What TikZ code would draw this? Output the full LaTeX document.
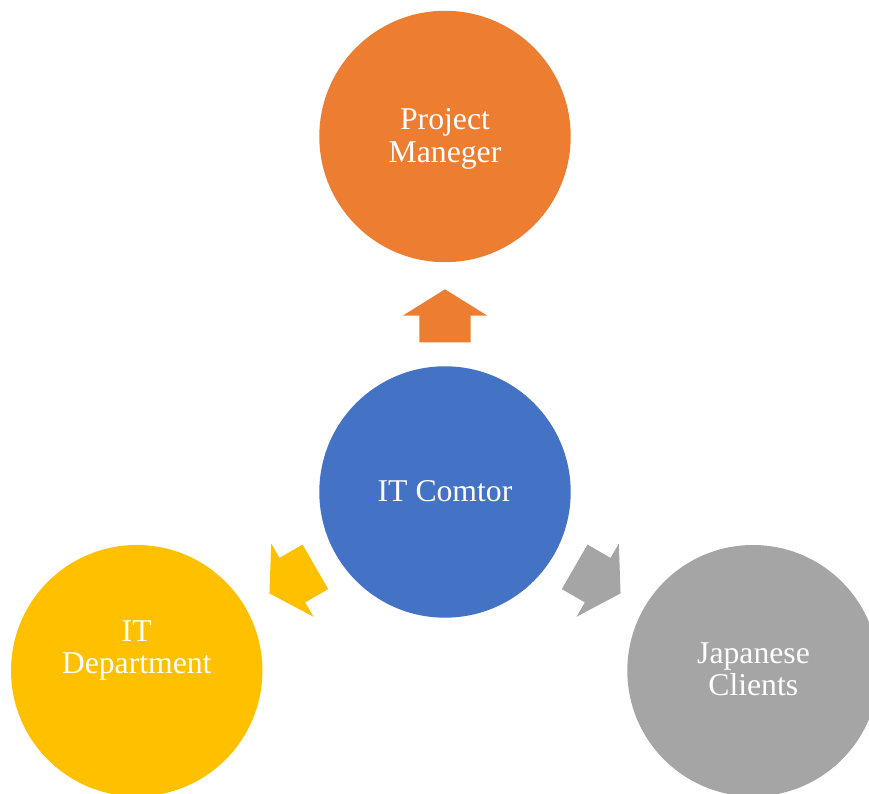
\documentclass[tikz,border=0pt]{standalone}
\usepackage{fontspec}
\setmainfont{Liberation Serif}
\definecolor{cOrange}{HTML}{ED7D31}
\definecolor{cBlue}{HTML}{4472C4}
\definecolor{cYellow}{HTML}{FFC000}
\definecolor{cGray}{HTML}{A5A5A5}
\begin{document}
\begin{tikzpicture}[x=1pt,y=1pt,
  bubble/.style={circle, inner sep=0pt, minimum size=251.4pt, draw=none},
  txt/.style={text=white, font=\fontsize{31.7}{33.3}\selectfont, inner sep=0pt, anchor=base},
  blockarrow/.style={draw=none}]
\useasboundingbox (0,0) rectangle (869,794);
\clip (0,0) rectangle (869,794);
% circles
\node[bubble, fill=cOrange] (pm) at (445,657.5) {};
\node[bubble, fill=cBlue] (itc) at (445,302) {};
\node[bubble, fill=cYellow] (itd) at (136.7,123.3) {};
\node[bubble, fill=cGray] (jc) at (753,123.3) {};
% block arrows
\foreach \ang/\col in {90/cOrange,210/cYellow,330/cGray}
  \fill[blockarrow, \col, shift={(itc.center)}, rotate=\ang]
    (149.7,-25.7) -- (176.3,-25.7) -- (176.3,-42.3) -- (202.7,0)
    -- (176.3,42.3) -- (176.3,25.7) -- (149.7,25.7) -- cycle;
% texts
\node[txt] (pm1) at (445,664.7) {Project};
\node[txt] (pm2) at (445,631.3) {Maneger};
\node[txt] (itc1) at (445,292.3) {IT Comtor};
\node[txt] (itd1) at (136.7,152.3) {IT};
\node[txt] (itd2) at (136.7,120) {Department};
\node[txt] (jc1) at (753.5,130.7) {Japanese};
\node[txt] (jc2) at (753.3,98.3) {Clients};
\end{tikzpicture}
\end{document}
